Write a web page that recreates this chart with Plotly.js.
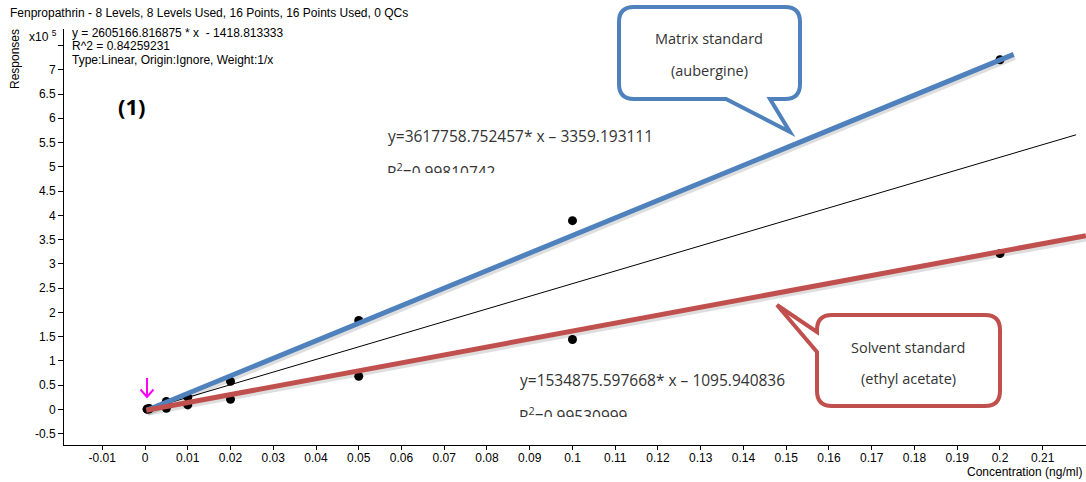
<!DOCTYPE html>
<html><head><meta charset="utf-8">
<script src="https://cdn.plot.ly/plotly-3.0.1.min.js"></script>
<style>html,body{margin:0;padding:0;background:#fff;}#chart{width:1086px;height:482px;}</style>
</head><body><div id="chart"></div>
<script>
// ---- Data ----
const levels = [0.0005, 0.001, 0.005, 0.01, 0.02, 0.05, 0.1, 0.2];
const matrixResponses = [500, 1500, 16000, 25000, 57600, 183000, 389000, 720600];
const solventResponses = [300, 800, 2000, 9000, 20600, 68000, 144000, 321000];
const matrixLineX = [0.0004, 0.2032];
const matrixLineY = [-2000, 731800];
const solventLineX = [0.0003, 0.2201];
const solventLineY = [-2000, 358000];
const overallLineX = [0, 0.2178];
const overallSlope = 2605166.816875;
const overallIntercept = -1418.813333;
const xTickVals = [-0.01, 0, 0.01, 0.02, 0.03, 0.04, 0.05, 0.06, 0.07, 0.08, 0.09, 0.1, 0.11, 0.12, 0.13, 0.14, 0.15, 0.16, 0.17, 0.18, 0.19, 0.2, 0.21];
const xTickText = ['-0.01', '0', '0.01', '0.02', '0.03', '0.04', '0.05', '0.06', '0.07', '0.08', '0.09', '0.1', '0.11', '0.12', '0.13', '0.14', '0.15', '0.16', '0.17', '0.18', '0.19', '0.2', '0.21'];
const yTickVals = [-50000, 0, 50000, 100000, 150000, 200000, 250000, 300000, 350000, 400000, 450000, 500000, 550000, 600000, 650000, 700000, 750000];
const yTickText = ['-0.5', '0', '0.5', '1', '1.5', '2', '2.5', '3', '3.5', '4', '4.5', '5', '5.5', '6', '6.5', '7', ''];

// ---- Layout geometry ----
const W = 1086, H = 482;
const M = {l: 64, r: 0, t: 29, b: 37};
const PW = W - M.l - M.r, PH = H - M.t - M.b;
const xRange = [-0.018947, 0.22012];
const yRange = [-73600, 784100];
const X = px => (px - M.l) / PW;
const Y = py => (H - M.b - py) / PH;
const pxPerX = PW / (xRange[1] - xRange[0]);
const pxPerY = PH / (yRange[1] - yRange[0]);

const BLUE = '#4F81BD', RED = '#C0504D';
const AXFONT = 'Liberation Sans, Arial, sans-serif';
const TXFONT = 'Open Sans, Noto Sans, sans-serif';

// shadow offsets (style only)
const sdx = 1 / pxPerX, sdy = 2.5 / pxPerY;
const shadow = (xs, ys) => ({x: xs.map(v => v + sdx), y: ys.map(v => v - sdy)});
const ms = shadow(matrixLineX, matrixLineY);
const ss = shadow(solventLineX, solventLineY);

const traces = [
  {x: overallLineX, y: overallLineX.map(v => overallSlope * v + overallIntercept), mode: 'lines',
   line: {color: '#000', width: 1}, hoverinfo: 'skip'},
  {x: levels, y: matrixResponses, mode: 'markers', marker: {color: '#000', size: 9}},
  {x: levels, y: solventResponses, mode: 'markers', marker: {color: '#000', size: 9}},
  {x: ms.x, y: ms.y, mode: 'lines', line: {color: 'rgba(0,0,0,0.13)', width: 6}, hoverinfo: 'skip'},
  {x: ss.x, y: ss.y, mode: 'lines', line: {color: 'rgba(0,0,0,0.13)', width: 6}, hoverinfo: 'skip'},
  {x: matrixLineX, y: matrixLineY, mode: 'lines', line: {color: BLUE, width: 5}},
  {x: solventLineX, y: solventLineY, mode: 'lines', line: {color: RED, width: 5}}
];

function P(x, y) { return X(x).toFixed(5) + ',' + Y(y).toFixed(5); }
function calloutBottom(x0, y0, x1, y1, r, t0, t1, tx, ty) {
  return 'M' + P(x0 + r, y0) + ' L' + P(x1 - r, y0) + ' Q' + P(x1, y0) + ' ' + P(x1, y0 + r) +
    ' L' + P(x1, y1 - r) + ' Q' + P(x1, y1) + ' ' + P(x1 - r, y1) +
    ' L' + P(t1, y1) + ' L' + P(tx, ty) + ' L' + P(t0, y1) +
    ' L' + P(x0 + r, y1) + ' Q' + P(x0, y1) + ' ' + P(x0, y1 - r) +
    ' L' + P(x0, y0 + r) + ' Q' + P(x0, y0) + ' ' + P(x0 + r, y0) + ' Z';
}
function calloutLeft(x0, y0, x1, y1, r, t0, t1, tx, ty) {
  return 'M' + P(x0 + r, y0) + ' L' + P(x1 - r, y0) + ' Q' + P(x1, y0) + ' ' + P(x1, y0 + r) +
    ' L' + P(x1, y1 - r) + ' Q' + P(x1, y1) + ' ' + P(x1 - r, y1) +
    ' L' + P(x0 + r, y1) + ' Q' + P(x0, y1) + ' ' + P(x0, y1 - r) +
    ' L' + P(x0, t1) + ' L' + P(tx, ty) + ' L' + P(x0, t0) +
    ' L' + P(x0, y0 + r) + ' Q' + P(x0, y0) + ' ' + P(x0 + r, y0) + ' Z';
}

const shapes = [
  {type: 'path', xref: 'paper', yref: 'paper', layer: 'above',
   path: calloutBottom(619, 7, 800, 99, 15, 726, 770, 790, 132),
   line: {color: BLUE, width: 4}, fillcolor: '#fff'},
  {type: 'path', xref: 'paper', yref: 'paper', layer: 'above',
   path: calloutLeft(817, 315, 1000, 406, 15, 332, 352, 777, 305),
   line: {color: RED, width: 4}, fillcolor: '#fff'},
  {type: 'path', xref: 'paper', yref: 'paper', layer: 'above',
   path: 'M' + P(147, 378) + ' L' + P(147, 397) + ' M' + P(140.5, 389.5) + ' L' + P(147, 397) + ' L' + P(153.5, 389.5),
   line: {color: '#FF00FF', width: 2}}
];

const ann = (o) => Object.assign({xref: 'paper', yref: 'paper', showarrow: false, xanchor: 'left', yanchor: 'middle'}, o);
const axf = {family: AXFONT, size: 12, color: '#000'};
const txf = {family: TXFONT, size: 15.5, color: '#333'};
const cof = {family: TXFONT, size: 14.5, color: '#333'};

const annotations = [
  ann({x: X(8), y: Y(13), text: 'Fenpropathrin - 8 Levels, 8 Levels Used, 16 Points, 16 Points Used, 0 QCs', font: axf}),
  ann({x: X(27), y: Y(36), text: 'x10 <sup>5</sup>', font: axf}),
  ann({x: X(15), y: Y(59), xanchor: 'center', text: 'Responses', textangle: -90, font: axf}),
  ann({x: X(70), y: Y(33), text: 'y = 2605166.816875 * x &nbsp;- 1418.813333', font: axf}),
  ann({x: X(70), y: Y(46), text: 'R^2 = 0.84259231', font: axf}),
  ann({x: X(70), y: Y(60), text: 'Type:Linear, Origin:Ignore, Weight:1/x', font: axf}),
  ann({x: X(132), y: Y(106), xanchor: 'center', text: '(1)', font: {family: TXFONT, size: 22, color: '#000', weight: 'bold'}}),
  ann({x: X(386), y: Y(136), text: 'y=3617758.752457* x – 3359.193111', font: txf}),
  ann({x: X(386), y: Y(158), yanchor: 'top', height: 14, valign: 'top', borderpad: 0, text: 'R<sup>2</sup>=0.99810742', font: txf}),
  ann({x: X(518), y: Y(380), text: 'y=1534875.597668* x – 1095.940836', font: txf}),
  ann({x: X(518), y: Y(402), yanchor: 'top', height: 14, valign: 'top', borderpad: 0, text: 'R<sup>2</sup>=0.99530999', font: txf}),
  ann({x: X(709), y: Y(38), xanchor: 'center', text: 'Matrix standard', font: cof}),
  ann({x: X(709), y: Y(71), xanchor: 'center', text: '(aubergine)', font: cof}),
  ann({x: X(908), y: Y(347), xanchor: 'center', text: 'Solvent standard', font: cof}),
  ann({x: X(908), y: Y(378), xanchor: 'center', text: '(ethyl acetate)', font: cof}),
  ann({x: X(1084), y: Y(472), xanchor: 'right', text: 'Concentration (ng/ml)', font: axf})
];

const layout = {
  width: W, height: H, margin: M, showlegend: false,
  paper_bgcolor: '#fff', plot_bgcolor: '#fff',
  xaxis: {range: xRange, tickvals: xTickVals, ticktext: xTickText, showgrid: false, zeroline: false,
          showline: true, linecolor: '#000', linewidth: 1, ticks: 'outside', ticklen: 4, tickcolor: '#000',
          ticklabelstandoff: -2, tickfont: axf, fixedrange: true},
  yaxis: {range: yRange, tickvals: yTickVals, ticktext: yTickText, showgrid: false, zeroline: false,
          showline: true, linecolor: '#000', linewidth: 1, ticks: 'outside', ticklen: 5, tickcolor: '#000',
          tickfont: axf, fixedrange: true},
  shapes: shapes,
  annotations: annotations
};

Plotly.newPlot('chart', traces, layout, {displayModeBar: false, staticPlot: true});
</script>
</body></html>
